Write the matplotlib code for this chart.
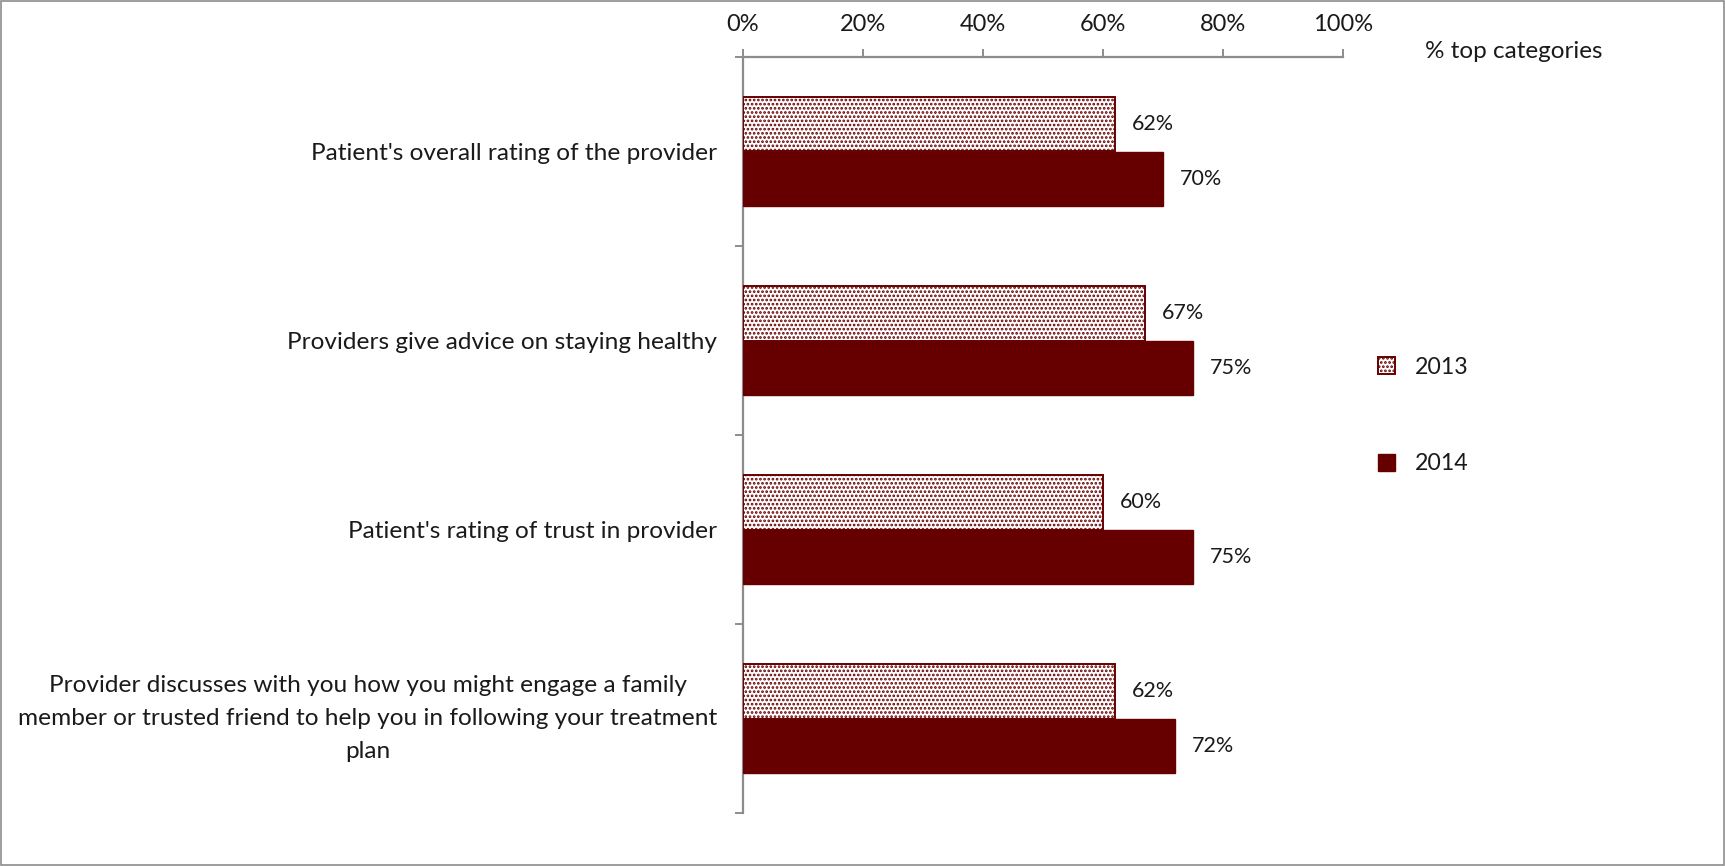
import matplotlib
matplotlib.use("Agg")
import matplotlib.pyplot as plt
import numpy as np
from matplotlib.patches import Rectangle

plt.rcParams['font.family'] = ['Lato', 'DejaVu Sans']
plt.rcParams['hatch.linewidth'] = 1.3

categories = [
    "Patient's overall rating of the provider",
    "Providers give advice on staying healthy",
    "Patient's rating of trust in provider",
    "Provider discusses with you how you might engage a family\nmember or trusted friend to help you in following your treatment\nplan",
]
values_2013 = [62, 67, 60, 62]
values_2014 = [70, 75, 75, 72]
series_names = ["2013", "2014"]
xticks = [0, 20, 40, 60, 80, 100]
xtick_labels = ["0%", "20%", "40%", "60%", "80%", "100%"]

dark = "#660000"
axis_gray = "#8c8c8c"
txt = "#1a1a1a"

fig = plt.figure(figsize=(17.25, 8.66), dpi=100)
ax = fig.add_axes([743/1725, 1-813/866, (1343-743)/1725, (813-57)/866])

n = len(categories)
y = np.arange(n)
h = 0.288
b1 = ax.barh(y - h/2, values_2013, height=h, color="white", edgecolor=dark,
             hatch="....", linewidth=1.4, label=series_names[0], zorder=3)
b2 = ax.barh(y + h/2, values_2014, height=h, color=dark, edgecolor=dark,
             linewidth=1.0, label=series_names[1], zorder=3)

for rect, v in zip(b1, values_2013):
    ax.text(v + 2.8, rect.get_y() + rect.get_height()/2, f"{v}%", va="center",
            ha="left", fontsize=15.5, color=txt)
for rect, v in zip(b2, values_2014):
    ax.text(v + 2.8, rect.get_y() + rect.get_height()/2, f"{v}%", va="center",
            ha="left", fontsize=15.5, color=txt)

ax.set_xlim(0, 100)
ax.set_ylim(n - 0.5, -0.5)
ax.xaxis.tick_top()
ax.set_xticks(xticks)
ax.set_xticklabels(xtick_labels, fontsize=17, color=txt)
ax.tick_params(axis="x", direction="out", length=6, width=1.4, color=axis_gray, pad=10)

ax.set_yticks(y)
ax.set_yticklabels(categories, fontsize=17.6, color=txt, ha="right",
                   multialignment="center", linespacing=1.7)
ax.get_yticklabels()[-1].set_va("center")
ax.tick_params(axis="y", length=0, pad=18.5)
ax.set_yticks(np.arange(-0.5, n, 1.0), minor=True)
ax.tick_params(axis="y", which="minor", direction="out", length=6, width=1.4, color=axis_gray)

for s in ["right", "bottom"]:
    ax.spines[s].set_visible(False)
ax.spines["left"].set_color(axis_gray)
ax.spines["left"].set_linewidth(1.6)
ax.spines["top"].set_color(axis_gray)
ax.spines["top"].set_linewidth(1.6)

fig.text(1514/1725, 1-51/866, "% top categories", fontsize=17.5, ha="center", va="center",
         color=txt)

leg = fig.legend(handles=[b1, b2], labels=series_names, loc="upper left",
                 bbox_to_anchor=(1378/1725, 1-357/866), frameon=False, fontsize=16.7,
                 handlelength=0.75, handleheight=0.75, labelspacing=3.25, handletextpad=0.85,
                 borderpad=0, borderaxespad=0)
for t in leg.get_texts():
    t.set_color(txt)

# figure border
fig.patches.append(Rectangle((0.0005, 0.001), 0.999, 0.998, transform=fig.transFigure,
                             fill=False, edgecolor="#8c8c8c", linewidth=1.2))

fig.savefig("out.png", dpi=100)
